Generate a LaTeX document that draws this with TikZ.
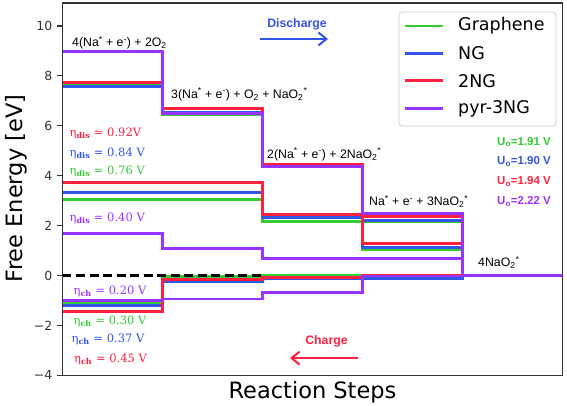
\documentclass[tikz,border=0pt]{standalone}
\usepackage{fontspec}
\setmainfont{DejaVu Sans}
\newfontfamily\labelfont{Liberation Sans}
\newfontfamily\etafont{DejaVu Serif}
\usetikzlibrary{arrows.meta,positioning}

\definecolor{cgraph}{RGB}{51,204,51}
\definecolor{cng}{RGB}{51,85,230}
\definecolor{ctwong}{RGB}{255,32,64}
\definecolor{cpyr}{RGB}{153,51,255}
\definecolor{cframe}{RGB}{51,51,51}

\tikzset{
  level/.style={line width=2.9pt},
  steplabel/.style={font=\labelfont\fontsize{12.3}{14}\selectfont, anchor=base west, inner sep=0pt},
  etalabel/.style={font=\etafont\fontsize{11.5}{13}\selectfont, anchor=base west, inner sep=0pt},
  ulabel/.style={font=\labelfont\bfseries\fontsize{11.5}{13}\selectfont, anchor=base west, inner sep=0pt},
  flowlabel/.style={font=\labelfont\bfseries\fontsize{12.3}{14}\selectfont, anchor=base, inner sep=0pt},
  flow/.style={line width=2pt, -{Straight Barb[length=8pt,width=13pt]}},
  ticklabel/.style={font=\fontsize{12.5}{14}\selectfont, anchor=east, inner sep=0pt},
  axislabel/.style={font=\fontsize{22.5}{26}\selectfont, inner sep=0pt},
  legendtext/.style={font=\fontsize{17.5}{20}\selectfont, anchor=west, inner sep=0pt},
}

% one free energy profile: colour, then the four first levels
\newcommand{\energysteps}[5]{%
  \draw[level,#1] (0,#2) -- (1,#2) -- (1,#3) -- (2,#3) -- (2,#4) -- (3,#4) -- (3,#5) -- (4,#5) -- (4,0) -- (5,0);}

\begin{document}
\begin{tikzpicture}[x=100pt,y=24.95pt]
  \useasboundingbox (-0.625,-5.23) rectangle (5.045,11.042);

  % U = 0, discharge and charge profiles
  \energysteps{cgraph}{7.65}{6.44}{4.40}{2.16}
  \energysteps{cgraph}{3.03}{3.03}{2.17}{1.06}
  \energysteps{cgraph}{-1.13}{-0.05}{0.02}{0.01}
  \energysteps{cng}{7.58}{6.52}{4.40}{2.21}
  \energysteps{cng}{3.33}{3.33}{2.32}{1.14}
  \energysteps{cng}{-1.20}{-0.25}{-0.12}{-0.11}
  \energysteps{ctwong}{7.72}{6.69}{4.47}{2.38}
  \energysteps{ctwong}{3.72}{3.72}{2.45}{1.29}
  \energysteps{ctwong}{-1.45}{-0.15}{-0.09}{0}
  \energysteps{cpyr}{8.96}{6.50}{4.38}{2.49}
  \energysteps{cpyr}{1.69}{1.07}{0.67}{0.69}
  \energysteps{cpyr}{-1.00}{-0.94}{-0.67}{-0.02}

  \draw[black, line width=2.2pt, dash pattern=on 9pt off 4.5pt] (0,0) -- (2,0);

  % axes
  \draw[cframe, line width=1.6pt] (0,-4) rectangle (5,10.92);
  \foreach \v/\t in {-4/−4,-2/−2,0/0,2/2,4/4,6/6,8/8,10/10}
    \draw[cframe, line width=1.2pt] (0,\v) -- (-0.055,\v) node[ticklabel, xshift=-4pt] (tick\v) {\t};
  \node[axislabel, anchor=base] (xlabel) at (2.5,-4.92) {Reaction Steps};
  \node[axislabel, anchor=base, rotate=90] (ylabel) at (-0.405,3.49) {Free Energy [eV]};

  % legend
  \node[draw=black!20, line width=0.8pt, fill=white, rounded corners=3pt,
        minimum width=157pt, minimum height=114pt] (legend) at (4.15,8.275) {};
  \foreach \c/\n/\y in {cgraph/Graphene/10.0, cng/NG/8.906, ctwong/2NG/7.81, cpyr/pyr-3NG/6.70} {
    \draw[level,\c] (3.425,\y) -- (3.805,\y);
    \node[legendtext] (leg\n) at (3.955,\y) {\n};
  }

  % states
  \node[steplabel] (s0) at (0.095,9.17) {4(Na\textsuperscript{*} + e\textsuperscript{-}) + 2O\textsubscript{2}};
  \node[steplabel] (s1) at (1.085,7.10) {3(Na\textsuperscript{*} + e\textsuperscript{-}) + O\textsubscript{2} + NaO\textsubscript{2}\textsuperscript{*}};
  \node[steplabel] (s2) at (2.045,4.70) {2(Na\textsuperscript{*} + e\textsuperscript{-}) + 2NaO\textsubscript{2}\textsuperscript{*}};
  \node[steplabel] (s3) at (3.065,2.79) {Na\textsuperscript{*} + e\textsuperscript{-} + 3NaO\textsubscript{2}\textsuperscript{*}};
  \node[steplabel] (s4) at (4.155,0.35) {4NaO\textsubscript{2}\textsuperscript{*}};

  % overpotentials
  \node[etalabel, text=ctwong] (dis2ng) at (0.07,5.59) {η\textsubscript{\bfseries dis} = 0.92V};
  \node[etalabel, text=cng] (disng) at (0.07,4.76) {η\textsubscript{\bfseries dis} = 0.84 V};
  \node[etalabel, text=cgraph] (disgr) at (0.07,4.06) {η\textsubscript{\bfseries dis} = 0.76 V};
  \node[etalabel, text=cpyr] (dispyr) at (0.07,2.16) {η\textsubscript{\bfseries dis} = 0.40 V};
  \node[etalabel, text=cpyr] (chpyr) at (0.11,-0.78) {η\textsubscript{\bfseries ch} = 0.20 V};
  \node[etalabel, text=cgraph] (chgr) at (0.11,-1.96) {η\textsubscript{\bfseries ch} = 0.30 V};
  \node[etalabel, text=cng] (chng) at (0.09,-2.69) {η\textsubscript{\bfseries ch} = 0.37 V};
  \node[etalabel, text=ctwong] (ch2ng) at (0.115,-3.49) {η\textsubscript{\bfseries ch} = 0.45 V};

  % equilibrium potentials
  \node[ulabel, text=cgraph] (ugr) at (4.345,5.23) {U\textsubscript{o}=1.91 V};
  \node[ulabel, text=cng] (ung) at (4.345,4.43) {U\textsubscript{o}=1.90 V};
  \node[ulabel, text=ctwong] (u2ng) at (4.345,3.63) {U\textsubscript{o}=1.94 V};
  \node[ulabel, text=cpyr] (upyr) at (4.345,2.83) {U\textsubscript{o}=2.22 V};

  % directions
  \node[flowlabel, text=cng] (discharge) at (2.345,9.93) {Discharge};
  \coordinate (dis a) at (1.975,9.48);
  \coordinate (dis b) at (2.655,9.48);
  \draw[flow, cng] (dis a) -- (dis b);
  \node[flowlabel, text=ctwong] (charge) at (2.64,-2.785) {Charge};
  \coordinate (ch a) at (2.955,-3.31);
  \coordinate (ch b) at (2.275,-3.31);
  \draw[flow, ctwong] (ch a) -- (ch b);
\end{tikzpicture}
\end{document}
